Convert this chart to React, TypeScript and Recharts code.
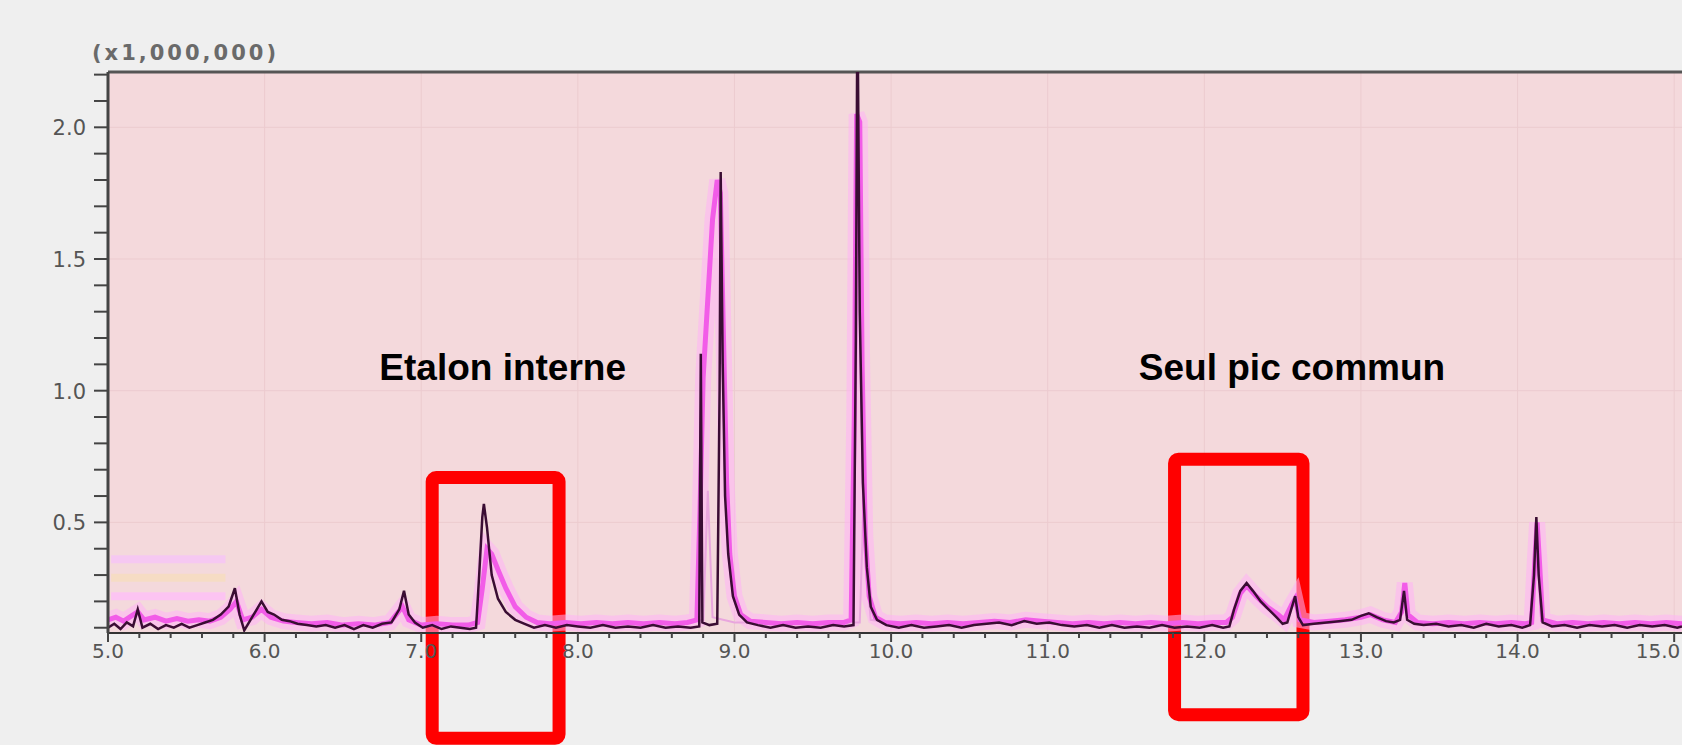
import { ComposedChart, Line, XAxis, YAxis, CartesianGrid, ReferenceArea, ReferenceLine, ReferenceDot, Label } from 'recharts';

// retention time (min), intensity (x1,000,000)
const darkTrace: [number, number][] = [
  [5.00, 0.10], [5.04, 0.115], [5.08, 0.095], [5.12, 0.12], [5.16, 0.105], [5.19, 0.17], [5.22, 0.10], [5.27, 0.115],
  [5.32, 0.095], [5.37, 0.11], [5.42, 0.10], [5.47, 0.115], [5.52, 0.10], [5.57, 0.11], [5.62, 0.12], [5.67, 0.13],
  [5.72, 0.15], [5.77, 0.18], [5.81, 0.25], [5.84, 0.15], [5.87, 0.09], [5.91, 0.13], [5.95, 0.17], [5.98, 0.20],
  [6.02, 0.16], [6.06, 0.15], [6.11, 0.13], [6.16, 0.125], [6.21, 0.115], [6.27, 0.11], [6.33, 0.105], [6.39, 0.11],
  [6.45, 0.10], [6.51, 0.11], [6.57, 0.095], [6.63, 0.11], [6.69, 0.10], [6.75, 0.115], [6.81, 0.12], [6.86, 0.17],
  [6.89, 0.24], [6.92, 0.15], [6.96, 0.12], [7.01, 0.10], [7.07, 0.11], [7.13, 0.095], [7.19, 0.105], [7.25, 0.10],
  [7.31, 0.095], [7.35, 0.10], [7.37, 0.30], [7.39, 0.52], [7.40, 0.57], [7.42, 0.48], [7.45, 0.30], [7.49, 0.21],
  [7.54, 0.16], [7.60, 0.13], [7.66, 0.115], [7.72, 0.10], [7.79, 0.11], [7.86, 0.10], [7.93, 0.11], [8.00, 0.105],
  [8.08, 0.10], [8.16, 0.11], [8.24, 0.10], [8.32, 0.105], [8.40, 0.10], [8.48, 0.11], [8.56, 0.10], [8.64, 0.105],
  [8.72, 0.10], [8.775, 0.105], [8.785, 1.14], [8.795, 0.12], [8.84, 0.11], [8.89, 0.115], [8.905, 1.0], [8.912, 1.83],
  [8.925, 1.1], [8.94, 0.6], [8.96, 0.38], [8.99, 0.22], [9.03, 0.15], [9.08, 0.12], [9.15, 0.11], [9.23, 0.10],
  [9.31, 0.11], [9.39, 0.10], [9.47, 0.105], [9.55, 0.10], [9.63, 0.11], [9.70, 0.105], [9.76, 0.11], [9.775, 1.2],
  [9.785, 2.5], [9.80, 1.3], [9.82, 0.65], [9.845, 0.33], [9.87, 0.18], [9.91, 0.13], [9.97, 0.11], [10.05, 0.10],
  [10.13, 0.11], [10.21, 0.10], [10.29, 0.105], [10.37, 0.11], [10.45, 0.10], [10.53, 0.11], [10.61, 0.115], [10.69, 0.12],
  [10.77, 0.11], [10.85, 0.125], [10.93, 0.115], [11.01, 0.12], [11.09, 0.11], [11.17, 0.105], [11.25, 0.11], [11.33, 0.10],
  [11.41, 0.11], [11.49, 0.10], [11.57, 0.105], [11.65, 0.10], [11.73, 0.11], [11.81, 0.10], [11.89, 0.105], [11.97, 0.10],
  [12.05, 0.11], [12.12, 0.10], [12.16, 0.105], [12.19, 0.17], [12.23, 0.24], [12.27, 0.27], [12.31, 0.24], [12.36, 0.20],
  [12.41, 0.17], [12.46, 0.14], [12.50, 0.115], [12.53, 0.12], [12.56, 0.18], [12.58, 0.22], [12.60, 0.14], [12.63, 0.11],
  [12.70, 0.115], [12.78, 0.12], [12.86, 0.125], [12.94, 0.13], [13.00, 0.145], [13.05, 0.155], [13.10, 0.14], [13.16, 0.125],
  [13.21, 0.12], [13.25, 0.13], [13.275, 0.24], [13.295, 0.13], [13.34, 0.115], [13.40, 0.11], [13.48, 0.115], [13.56, 0.105],
  [13.64, 0.11], [13.72, 0.10], [13.80, 0.115], [13.88, 0.105], [13.96, 0.11], [14.03, 0.10], [14.08, 0.11], [14.105, 0.30],
  [14.12, 0.52], [14.135, 0.30], [14.16, 0.12], [14.22, 0.105], [14.30, 0.11], [14.38, 0.10], [14.46, 0.11], [14.54, 0.105],
  [14.62, 0.11], [14.70, 0.10], [14.78, 0.11], [14.86, 0.105], [14.94, 0.11], [15.02, 0.10], [15.05, 0.105],
];

const magentaTrace: [number, number][] = [
  [5.00, 0.13], [5.05, 0.14], [5.10, 0.125], [5.15, 0.145], [5.19, 0.16], [5.23, 0.13], [5.30, 0.14], [5.37, 0.125],
  [5.44, 0.135], [5.51, 0.125], [5.58, 0.13], [5.65, 0.125], [5.72, 0.14], [5.78, 0.17], [5.82, 0.20], [5.86, 0.13],
  [5.92, 0.14], [5.98, 0.17], [6.04, 0.14], [6.12, 0.125], [6.20, 0.12], [6.30, 0.115], [6.40, 0.12], [6.50, 0.11],
  [6.60, 0.115], [6.70, 0.11], [6.80, 0.12], [6.88, 0.18], [6.92, 0.13], [7.00, 0.11], [7.10, 0.115], [7.20, 0.11],
  [7.30, 0.11], [7.36, 0.12], [7.39, 0.25], [7.42, 0.40], [7.45, 0.38], [7.49, 0.32], [7.54, 0.25], [7.60, 0.18],
  [7.67, 0.14], [7.74, 0.12], [7.82, 0.115], [7.92, 0.12], [8.02, 0.115], [8.12, 0.12], [8.22, 0.115], [8.32, 0.12],
  [8.42, 0.115], [8.52, 0.12], [8.62, 0.115], [8.70, 0.12], [8.76, 0.13], [8.78, 0.55], [8.80, 1.05], [8.83, 1.35],
  [8.86, 1.65], [8.89, 1.80], [8.91, 1.75], [8.93, 1.2], [8.95, 0.65], [8.97, 0.38], [9.00, 0.22], [9.04, 0.15],
  [9.10, 0.125], [9.20, 0.12], [9.30, 0.115], [9.40, 0.12], [9.50, 0.115], [9.60, 0.12], [9.70, 0.12], [9.745, 0.13],
  [9.765, 0.9], [9.78, 2.05], [9.80, 2.02], [9.815, 1.1], [9.835, 0.45], [9.86, 0.22], [9.90, 0.14], [9.96, 0.12],
  [10.06, 0.115], [10.16, 0.12], [10.26, 0.115], [10.36, 0.12], [10.46, 0.115], [10.56, 0.12], [10.66, 0.125], [10.76, 0.12],
  [10.86, 0.13], [10.96, 0.125], [11.06, 0.12], [11.16, 0.115], [11.26, 0.12], [11.36, 0.115], [11.46, 0.12], [11.56, 0.115],
  [11.66, 0.12], [11.76, 0.115], [11.86, 0.12], [11.96, 0.115], [12.06, 0.12], [12.14, 0.12], [12.18, 0.14], [12.23, 0.23],
  [12.27, 0.26], [12.33, 0.22], [12.40, 0.18], [12.47, 0.15], [12.51, 0.13], [12.56, 0.19], [12.58, 0.21], [12.61, 0.13],
  [12.70, 0.12], [12.80, 0.125], [12.90, 0.13], [13.00, 0.14], [13.06, 0.15], [13.14, 0.13], [13.22, 0.12], [13.26, 0.16],
  [13.28, 0.27], [13.30, 0.15], [13.36, 0.12], [13.46, 0.115], [13.56, 0.12], [13.66, 0.115], [13.76, 0.12], [13.86, 0.115],
  [13.96, 0.12], [14.05, 0.115], [14.09, 0.12], [14.11, 0.35], [14.125, 0.50], [14.14, 0.35], [14.16, 0.13], [14.25, 0.115],
  [14.35, 0.12], [14.45, 0.115], [14.55, 0.12], [14.65, 0.115], [14.75, 0.12], [14.85, 0.115], [14.95, 0.12], [15.05, 0.115],
];

const lightTrace: [number, number][] = [
  [8.60, 0.12], [8.70, 0.12], [8.80, 0.13], [8.83, 0.62], [8.86, 0.14], [9.00, 0.12], [9.30, 0.12], [9.60, 0.12],
  [9.80, 0.12], [9.815, 0.4], [9.83, 0.73], [9.845, 0.3], [9.87, 0.13], [10.00, 0.12], [10.20, 0.12],
];

const bandLavender: [number, number][] = [[5.02, 0.36], [5.75, 0.36]];
const bandPeach: [number, number][] = [[5.02, 0.29], [5.75, 0.29]];
const bandPink: [number, number][] = [[5.02, 0.22], [5.75, 0.22]];

const xMajorTicks = [5, 6, 7, 8, 9, 10, 11, 12, 13, 14, 15];
const xAllTicks = [
  5, 5.2, 5.4, 5.6, 5.8, 6, 6.2, 6.4, 6.6, 6.8, 7, 7.2, 7.4, 7.6, 7.8, 8, 8.2, 8.4, 8.6, 8.8, 9, 9.2, 9.4, 9.6, 9.8,
  10, 10.2, 10.4, 10.6, 10.8, 11, 11.2, 11.4, 11.6, 11.8, 12, 12.2, 12.4, 12.6, 12.8, 13, 13.2, 13.4, 13.6, 13.8,
  14, 14.2, 14.4, 14.6, 14.8, 15,
];
const yMajorTicks = [0.5, 1.0, 1.5, 2.0];
const yAllTicks = [
  0.1, 0.2, 0.3, 0.4, 0.5, 0.6, 0.7, 0.8, 0.9, 1.0, 1.1, 1.2, 1.3, 1.4, 1.5, 1.6, 1.7, 1.8, 1.9, 2.0, 2.1, 2.2,
];

const toRows = (pts: [number, number][]) => pts.map(([t, v]) => ({ t, v }));

const tickFont = 'DejaVu Sans, sans-serif';
const W = 1682;

function XTick(props: any) {
  const { x, y, payload } = props;
  const major = xMajorTicks.includes(payload.value);
  // keep the last label inside the picture
  const tx = Math.min(x, W - 24);
  return (
    <g>
      <line x1={x} y1={y} x2={x} y2={y + (major ? 9 : 5)} stroke="#444" strokeWidth={2} />
      {major && (
        <text x={tx} y={y + 25} textAnchor="middle" fontSize={20} fill="#555" fontFamily={tickFont}>
          {payload.value.toFixed(1)}
        </text>
      )}
    </g>
  );
}

function YTick(props: any) {
  const { x, y, payload } = props;
  const major = yMajorTicks.includes(payload.value);
  return (
    <g>
      <line x1={x - 14} y1={y} x2={x} y2={y} stroke="#444" strokeWidth={2} />
      {major && (
        <text x={x - 22} y={y + 8} textAnchor="end" fontSize={21} fill="#555" fontFamily={tickFont}>
          {payload.value.toFixed(1)}
        </text>
      )}
    </g>
  );
}

const labelStyle = { fontSize: 37, fontWeight: 'bold', fill: '#000', fontFamily: 'Liberation Sans, Arial, sans-serif' };

export default function App() {
  return (
    <div style={{ position: 'fixed', left: 0, top: 0, width: W, height: 745, overflow: 'hidden', background: '#efefef' }}>
      <div style={{ position: 'absolute', left: 92, top: 41, fontSize: 21, letterSpacing: 3, fontWeight: 600, color: '#6a6a6a', fontFamily: tickFont }}>
        (x1,000,000)
      </div>
      <ComposedChart width={W} height={745} margin={{ top: 72, right: 0, left: 0, bottom: 72 }}>
        <CartesianGrid
          fill="#f4d9dc"
          stroke="#eccbcf"
          verticalValues={xMajorTicks}
          horizontalValues={yMajorTicks}
        />
        <XAxis
          dataKey="t"
          type="number"
          domain={[5, 15.05]}
          ticks={xAllTicks}
          interval={0}
          allowDataOverflow
          tickLine={false}
          tickSize={0}
          tickMargin={0}
          tick={<XTick />}
          axisLine={{ stroke: '#333', strokeWidth: 2 }}
          height={40}
        />
        <YAxis
          type="number"
          domain={[0.08, 2.21]}
          ticks={yAllTicks}
          interval={0}
          allowDataOverflow
          tickLine={false}
          tickSize={0}
          tickMargin={0}
          tick={<YTick />}
          axisLine={{ stroke: '#444', strokeWidth: 3 }}
          width={108}
        />
        <ReferenceLine y={2.21} stroke="#555" strokeWidth={3} />
        <Line data={toRows(bandLavender)} dataKey="v" stroke="#f6c8f2" strokeWidth={8} dot={false} isAnimationActive={false} />
        <Line data={toRows(bandPeach)} dataKey="v" stroke="#f6dcc4" strokeWidth={8} dot={false} isAnimationActive={false} />
        <Line data={toRows(bandPink)} dataKey="v" stroke="#fcc4f2" strokeWidth={8} dot={false} isAnimationActive={false} />
        <Line data={toRows(magentaTrace)} dataKey="v" stroke="#ffb2f6" strokeOpacity={0.55} strokeWidth={16} dot={false} isAnimationActive={false} />
        <Line data={toRows(lightTrace)} dataKey="v" stroke="#e9a6de" strokeWidth={2} dot={false} isAnimationActive={false} />
        <Line data={toRows(magentaTrace)} dataKey="v" stroke="#f25ce8" strokeWidth={5} dot={false} isAnimationActive={false} />
        <Line data={toRows(darkTrace)} dataKey="v" stroke="#3a0d33" strokeWidth={2.5} dot={false} isAnimationActive={false} />
        <ReferenceDot x={7.52} y={1.09} r={0} fill="none" stroke="none">
          <Label value="Etalon interne" position="center" {...labelStyle} />
        </ReferenceDot>
        <ReferenceDot x={12.56} y={1.09} r={0} fill="none" stroke="none">
          <Label value="Seul pic commun" position="center" {...labelStyle} />
        </ReferenceDot>
        <ReferenceArea x1={7.07} x2={7.88} y1={-0.32} y2={0.67} ifOverflow="visible" fill="none" stroke="#ff0000" strokeWidth={13} radius={4} />
        <ReferenceArea x1={11.81} x2={12.63} y1={-0.23} y2={0.74} ifOverflow="visible" fill="none" stroke="#ff0000" strokeWidth={13} radius={4} />
      </ComposedChart>
    </div>
  );
}
